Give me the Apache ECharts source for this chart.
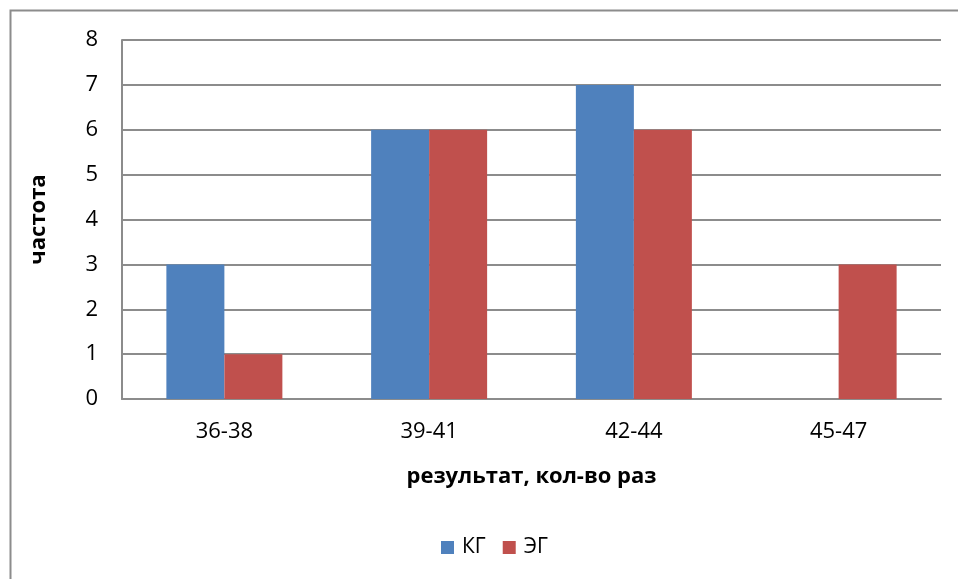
<!DOCTYPE html>
<html>
<head>
<meta charset="utf-8">
<script src="https://cdn.jsdelivr.net/npm/echarts@6/dist/echarts.min.js"></script>
<style>
  html, body { margin: 0; padding: 0; background: #fff; }
  #chart { width: 958px; height: 579px; }
</style>
</head>
<body>
<div id="chart"></div>
<script>
// Frequency of results by interval for the control (КГ) and experimental (ЭГ) groups
const categories = ['36-38', '39-41', '42-44', '45-47'];
const kgValues = [3, 6, 7, 0];
const egValues = [1, 6, 6, 3];
const seriesNames = ['КГ', 'ЭГ'];
const xTitle = 'результат, кол-во раз';
const yTitle = 'частота';

const font = '"Open Sans", "Liberation Sans", sans-serif';
const chart = echarts.init(document.getElementById('chart'));

chart.setOption({
  animation: false,
  backgroundColor: '#fff',
  graphic: [{
    type: 'rect',
    shape: { x: 10.5, y: 10.5, width: 1000, height: 1000 },
    style: { fill: 'none', stroke: '#8c8c8c', lineWidth: 2 },
    silent: true
  }],
  grid: { left: 122, right: 17, top: 40, bottom: 180, containLabel: false },
  legend: {
    data: seriesNames,
    top: 532,
    left: 436,
    itemWidth: 13,
    itemHeight: 13,
    itemGap: 17,
    icon: 'rect',
    textStyle: { fontFamily: font, fontSize: 21, color: '#000', padding: [0, 0, 0, 3] }
  },
  xAxis: {
    type: 'category',
    data: categories,
    name: xTitle,
    nameLocation: 'middle',
    nameGap: 67,
    nameTextStyle: { fontFamily: font, fontSize: 22, fontWeight: 'bold', color: '#000' },
    axisLine: { lineStyle: { color: '#8c8c8c', width: 2 } },
    axisTick: { show: false },
    axisLabel: { fontFamily: font, fontSize: 22, color: '#000', margin: 22 }
  },
  yAxis: {
    type: 'value',
    min: 0,
    max: 8,
    interval: 1,
    name: yTitle,
    nameLocation: 'middle',
    nameGap: 72,
    nameTextStyle: { fontFamily: font, fontSize: 22, fontWeight: 'bold', color: '#000' },
    axisLine: { show: true, lineStyle: { color: '#8c8c8c', width: 2 } },
    axisTick: { show: false },
    axisLabel: { fontFamily: font, fontSize: 22, color: '#000', margin: 24 },
    splitLine: { lineStyle: { color: '#8c8c8c', width: 2 } }
  },
  series: [
    {
      name: seriesNames[0],
      type: 'bar',
      data: kgValues,
      barWidth: 58,
      barGap: '0%',
      itemStyle: { color: '#4f81bd' }
    },
    {
      name: seriesNames[1],
      type: 'bar',
      data: egValues,
      barWidth: 58,
      barGap: '0%',
      itemStyle: { color: '#c0504d' }
    }
  ]
});
</script>
</body>
</html>
